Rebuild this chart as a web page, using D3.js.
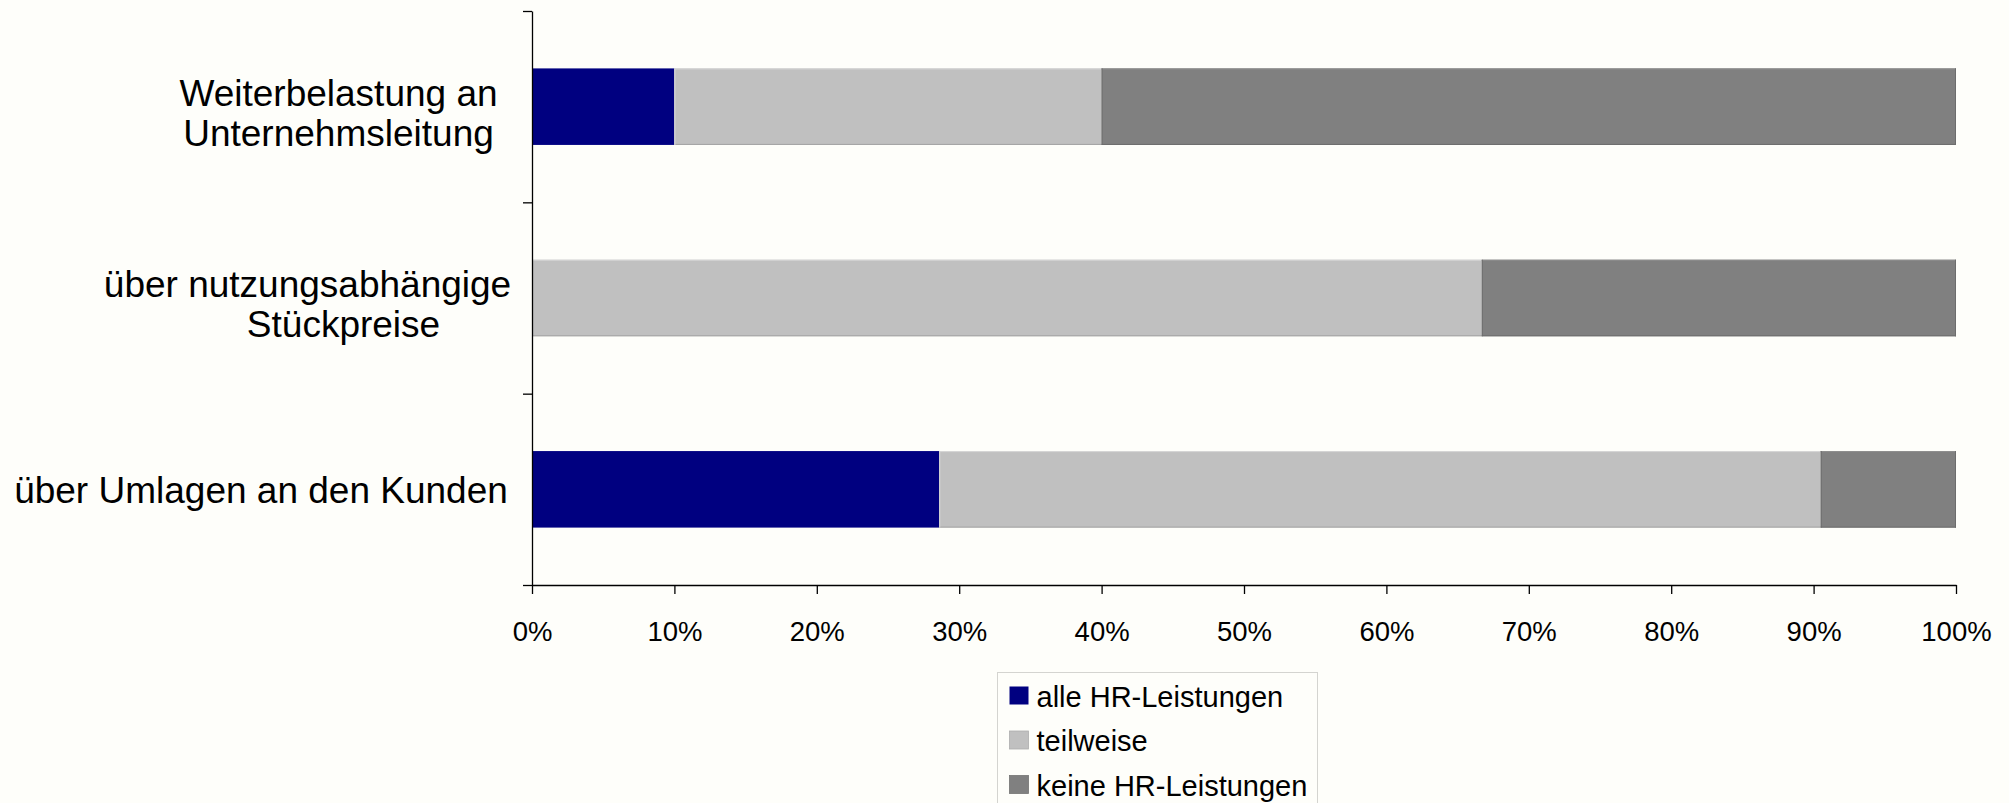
<!DOCTYPE html>
<html>
<head>
<meta charset="utf-8">
<script src="https://cdn.jsdelivr.net/npm/d3@7"></script>
<style>
  html, body { margin: 0; padding: 0; background: #fefefa; }
  svg { display: block; font-family: "Liberation Sans", Arial, sans-serif; }
</style>
</head>
<body>
<div id="chart-container"></div>
<script>
// Chart data
const categories = ["Weiterbelastung an Unternehmsleitung", "über nutzungsabhängige Stückpreise", "über Umlagen an den Kunden"];
const categoryLines = [["Weiterbelastung an", "Unternehmsleitung"], ["über nutzungsabhängige", "Stückpreise"], ["über Umlagen an den Kunden"]];
const seriesNames = ["alle HR-Leistungen", "teilweise", "keine HR-Leistungen"];
const alleValues = [10.0, 0.0, 28.6];
const teilweiseValues = [30.0, 66.7, 61.9];
const keineValues = [60.0, 33.3, 9.5];
const xTicks = [0, 10, 20, 30, 40, 50, 60, 70, 80, 90, 100];

class StackedBarChart {
    constructor() {
        this.config = {
            width: 2009,
            height: 803,
            left: 532,
            right: 1956,
            top: 11,
            bottom: 585,
            colors: ["#000080", "#c0c0c0", "#808080"],
            // center x of each category label line
            labelCenters: [[338.5, 338.5], [307.5, 343.5], [261]],
            lineHeight: 40
        };
        this.svg = null;
        this.x = null;
        this.y = null;
    }

    init() {
        const c = this.config;
        this.svg = d3.select("#chart-container").append("svg")
            .attr("width", c.width)
            .attr("height", c.height);

        this.svg.append("rect")
            .attr("width", c.width)
            .attr("height", c.height)
            .attr("fill", "#fefefa");

        this.x = d3.scaleLinear().domain([0, 100]).range([c.left, c.right]);
        this.y = d3.scaleBand()
            .domain(categories)
            .range([c.top, c.bottom])
            .paddingInner(0.6)
            .paddingOuter(0.3);

        this.drawBars();
        this.drawAxes();
        this.drawCategoryLabels();
        this.drawLegend();
    }

    /**
     * Stacked bars, built from the three series
     */
    drawBars() {
        const rows = categories.map((cat, i) => ({
            cat: cat,
            [seriesNames[0]]: alleValues[i],
            [seriesNames[1]]: teilweiseValues[i],
            [seriesNames[2]]: keineValues[i]
        }));
        const stacked = d3.stack().keys(seriesNames)(rows);
        const c = this.config;

        const groups = this.svg.append("g").attr("class", "bars")
            .selectAll("g")
            .data(stacked)
            .join("g");

        groups.each((series, si, nodes) => {
            const g = d3.select(nodes[si]);
            const col = c.colors[si];
            const segs = series.filter(d => d[1] - d[0] > 0);
            g.selectAll("rect")
                .data(segs)
                .join("rect")
                .attr("x", d => this.x(d[0]))
                .attr("y", d => this.y(d.data.cat))
                .attr("width", d => this.x(d[1]) - this.x(d[0]))
                .attr("height", this.y.bandwidth())
                .attr("fill", col);

            if (si > 0) {
                // subtle bevel: light top edge, dark bottom and right edges
                const dark = d3.color(col).darker(0.45).formatHex();
                const light = d3.color(col).brighter(0.3).formatHex();
                g.selectAll("line.top")
                    .data(segs)
                    .join("line")
                    .attr("class", "top")
                    .attr("x1", d => this.x(d[0]))
                    .attr("x2", d => this.x(d[1]))
                    .attr("y1", d => this.y(d.data.cat) + 0.5)
                    .attr("y2", d => this.y(d.data.cat) + 0.5)
                    .attr("stroke", light);
                g.selectAll("line.bot")
                    .data(segs)
                    .join("line")
                    .attr("class", "bot")
                    .attr("x1", d => this.x(d[0]))
                    .attr("x2", d => this.x(d[1]))
                    .attr("y1", d => this.y(d.data.cat) + this.y.bandwidth() - 0.5)
                    .attr("y2", d => this.y(d.data.cat) + this.y.bandwidth() - 0.5)
                    .attr("stroke", dark);
                g.selectAll("line.side")
                    .data(segs)
                    .join("line")
                    .attr("class", "side")
                    .attr("x1", d => this.x(d[0]) + 0.5)
                    .attr("x2", d => this.x(d[0]) + 0.5)
                    .attr("y1", d => this.y(d.data.cat))
                    .attr("y2", d => this.y(d.data.cat) + this.y.bandwidth())
                    .attr("stroke", si === 2 ? dark : light);
                if (si === 2) {
                    g.selectAll("line.right")
                        .data(segs)
                        .join("line")
                        .attr("class", "right")
                        .attr("x1", d => this.x(d[1]) - 0.5)
                        .attr("x2", d => this.x(d[1]) - 0.5)
                        .attr("y1", d => this.y(d.data.cat))
                        .attr("y2", d => this.y(d.data.cat) + this.y.bandwidth())
                        .attr("stroke", dark);
                }
            }
        });
    }

    drawAxes() {
        const c = this.config;

        // x axis
        const xAxis = d3.axisBottom(this.x)
            .tickValues(xTicks)
            .tickSize(9)
            .tickSizeOuter(0)
            .tickPadding(27)
            .tickFormat(d => d + "%");
        const gx = this.svg.append("g")
            .attr("transform", `translate(0,${c.bottom})`)
            .call(xAxis);
        gx.selectAll("text")
            .attr("fill", "#000")
            .style("font-size", "27.5px");
        gx.selectAll("line, path").attr("stroke", "#000").attr("stroke-width", 1.3);

        // y axis: ticks at the category boundaries
        const step = this.y.step();
        const boundaries = d3.range(categories.length + 1);
        const yb = d3.scaleLinear()
            .domain([0, categories.length])
            .range([c.top, c.top + step * categories.length]);
        const yAxis = d3.axisLeft(yb)
            .tickValues(boundaries)
            .tickSize(9)
            .tickSizeOuter(0)
            .tickFormat("");
        const gy = this.svg.append("g")
            .attr("transform", `translate(${c.left},0)`)
            .call(yAxis);
        gy.selectAll("line, path").attr("stroke", "#000").attr("stroke-width", 1.3);
    }

    drawCategoryLabels() {
        const c = this.config;
        const g = this.svg.append("g").attr("class", "cat-labels");
        categories.forEach((cat, i) => {
            const lines = categoryLines[i];
            const mid = this.y(cat) + this.y.bandwidth() / 2;
            const first = lines.length === 1 ? mid + 14 : mid - 1;
            lines.forEach((line, j) => {
                g.append("text")
                    .attr("x", c.labelCenters[i][j])
                    .attr("y", first + j * c.lineHeight)
                    .attr("text-anchor", "middle")
                    .style("font-size", "37px")
                    .attr("fill", "#000")
                    .text(line);
            });
        });
    }

    drawLegend() {
        const c = this.config;
        const lg = this.svg.append("g").attr("transform", "translate(997.5,672.5)");
        lg.append("rect")
            .attr("width", 320)
            .attr("height", 160)
            .attr("fill", "#fefefa")
            .attr("stroke", "#d4d4d0");

        const items = lg.selectAll("g.item")
            .data(seriesNames)
            .join("g")
            .attr("class", "item")
            .attr("transform", (d, i) => `translate(12,${14 + i * 44.5})`);
        items.append("rect")
            .attr("width", 19)
            .attr("height", 18)
            .attr("fill", (d, i) => c.colors[i])
            .attr("stroke", (d, i) => i === 0 ? "none" : d3.color(c.colors[i]).darker(0.3).formatHex())
            .attr("stroke-width", 0.8);
        items.append("text")
            .attr("x", 27)
            .attr("y", 20)
            .style("font-size", "29px")
            .attr("fill", "#000")
            .text(d => d);
    }
}

let chartInstance = null;

function initChart() {
    chartInstance = new StackedBarChart();
    chartInstance.init();
    return chartInstance;
}

initChart();
</script>
</body>
</html>
